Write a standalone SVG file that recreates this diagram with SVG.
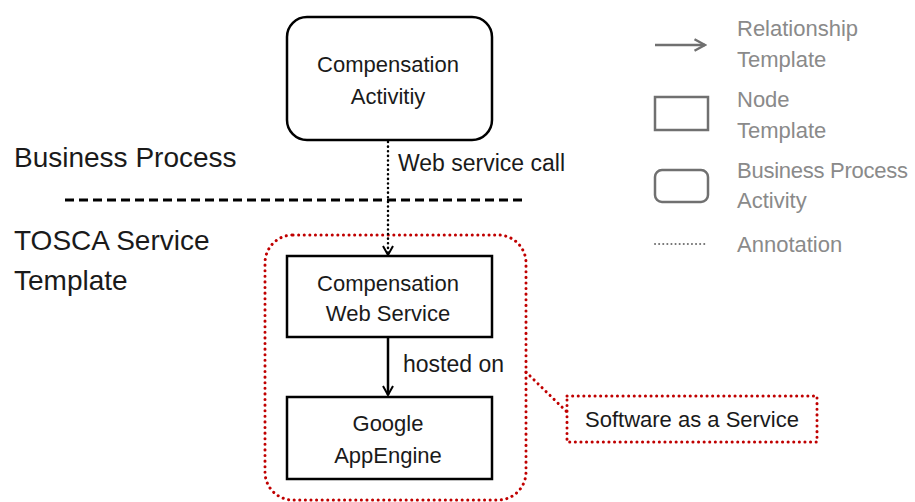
<svg xmlns="http://www.w3.org/2000/svg" width="915" height="502" viewBox="0 0 915 502">
<defs>
<style>
text{font-family:"Liberation Sans",Arial,sans-serif;fill:#1a1a1a}
.node{fill:#fff;stroke:#000;stroke-width:2.5}
.lbl{font-size:22px;text-anchor:middle}
.big{font-size:28px}
.conn{font-size:23px}
.saas{font-size:22px;text-anchor:middle}
.leg{font-size:22px;fill:#8a8a8a}
.legshape{fill:none;stroke:#707070;stroke-width:2.5}
.red{fill:none;stroke:#c00000;stroke-width:3;stroke-dasharray:0.1 5.5;stroke-linecap:round}
</style>
<marker id="open" viewBox="0 0 12 12" refX="10" refY="6" markerWidth="12" markerHeight="12" markerUnits="userSpaceOnUse" orient="auto">
<path d="M1,1 L10,6 L1,11" fill="none" stroke="#000" stroke-width="2"/>
</marker>
<marker id="gopen" viewBox="0 0 12 12" refX="10" refY="6" markerWidth="14" markerHeight="14" markerUnits="userSpaceOnUse" orient="auto">
<path d="M1,1 L10,6 L1,11" fill="none" stroke="#707070" stroke-width="2"/>
</marker>
</defs>
<rect width="915" height="502" fill="#fff"/>

<text class="big" x="14" y="167">Business Process</text>
<line x1="65" y1="200" x2="525" y2="200" stroke="#000" stroke-width="2.8" stroke-dasharray="9 5"/>
<text class="big" x="14" y="250">TOSCA Service</text>
<text class="big" x="14" y="290">Template</text>

<g id="saas-boundary">
<rect class="red" x="265" y="235" width="261" height="265" rx="28"/>
</g>

<g id="connectors">
<line x1="388" y1="142" x2="388" y2="255" stroke="#000" stroke-width="2.5" stroke-dasharray="0.1 4.5" stroke-linecap="round" marker-end="url(#open)"/>
<text class="conn" x="398" y="171">Web service call</text>
<line x1="388" y1="338" x2="388" y2="395" stroke="#000" stroke-width="2.5" marker-end="url(#open)"/>
<text class="conn" x="403" y="372">hosted on</text>
<line class="red" x1="526" y1="372" x2="567" y2="412"/>
</g>

<g id="compensation-activity">
<rect class="node" x="287" y="17" width="205" height="123" rx="20" stroke-width="3"/>
<text class="lbl" x="388" y="72">Compensation</text>
<text class="lbl" x="388" y="104">Activitiy</text>
</g>

<g id="compensation-web-service">
<rect class="node" x="287" y="256" width="205" height="81"/>
<text class="lbl" x="388" y="291">Compensation</text>
<text class="lbl" x="388" y="321">Web Service</text>
</g>

<g id="google-appengine">
<rect class="node" x="287" y="397" width="205" height="82"/>
<text class="lbl" x="388" y="431">Google</text>
<text class="lbl" x="388" y="463">AppEngine</text>
</g>

<g id="saas-note">
<rect class="red" x="567" y="396" width="250" height="46"/>
<text class="saas" x="692" y="427">Software as a Service</text>
</g>

<g id="legend">
<line x1="655" y1="45" x2="705" y2="45" stroke="#707070" stroke-width="2.5" marker-end="url(#gopen)"/>
<text class="leg" x="737" y="36">Relationship</text>
<text class="leg" x="737" y="67">Template</text>
<rect class="legshape" x="655" y="97" width="53" height="33"/>
<text class="leg" x="737" y="107">Node</text>
<text class="leg" x="737" y="138">Template</text>
<rect class="legshape" x="655" y="170" width="53" height="32" rx="7"/>
<text class="leg" x="737" y="178" textLength="171">Business Process</text>
<text class="leg" x="737" y="208">Activity</text>
<line x1="655" y1="244" x2="705" y2="244" stroke="#707070" stroke-width="2" stroke-dasharray="0.1 4" stroke-linecap="round"/>
<text class="leg" x="737" y="252">Annotation</text>
</g>
</svg>
